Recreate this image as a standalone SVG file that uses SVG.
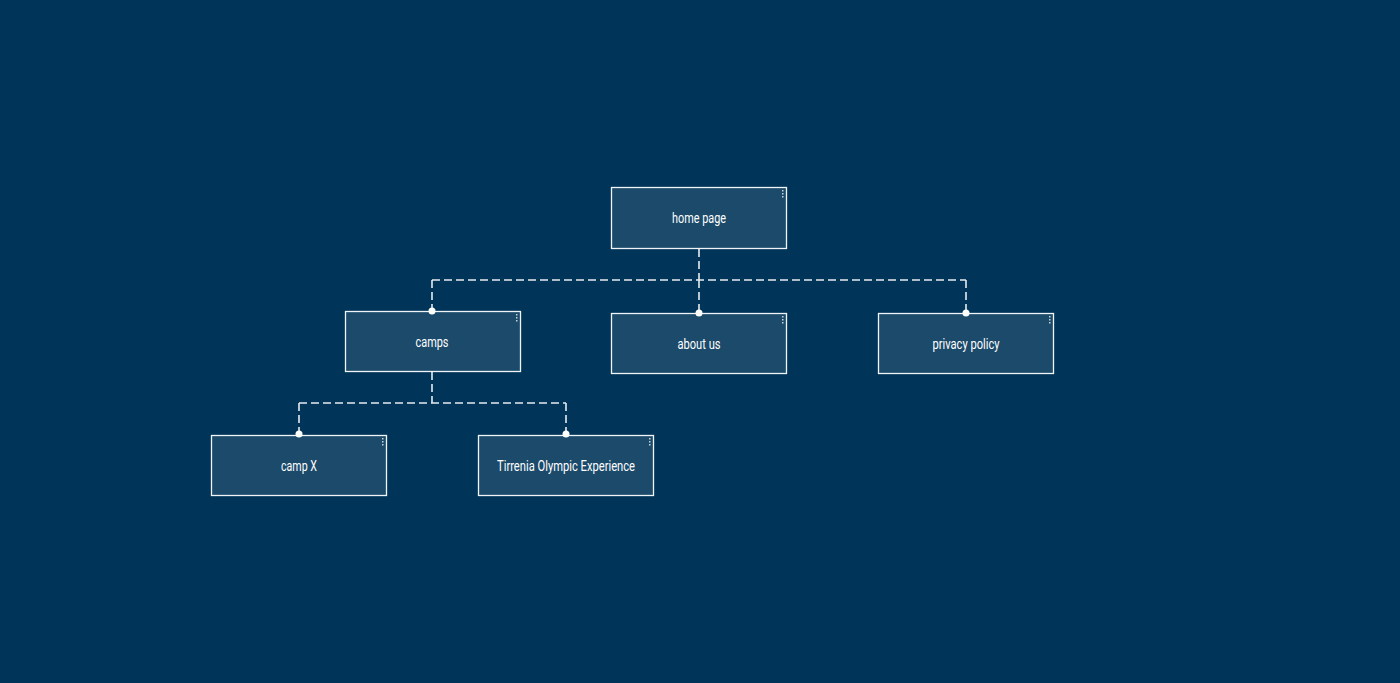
<svg xmlns="http://www.w3.org/2000/svg" width="1400" height="683" viewBox="0 0 1400 683">
<style>
.node rect.box{fill:#1b4a6b;stroke:#f0f4f7;stroke-width:1.3}
.node text{fill:#ffffff;font-family:Roboto,"DejaVu Sans",sans-serif;font-size:14px;text-anchor:middle;dominant-baseline:central}
.node .menu{fill:#c8d3dc}
.conn path{fill:none;stroke:#e6ecf0;stroke-width:1.6;stroke-dasharray:8 4}
.conn circle{fill:#ffffff}
</style>
<rect x="0" y="0" width="1400" height="683" fill="#003459"/>
<g id="node-home" class="node">
<rect class="box" x="611.5" y="187.5" width="175" height="61"/>
<text x="699" y="218" textLength="54" lengthAdjust="spacingAndGlyphs">home page</text>
<g class="menu"><rect x="782" y="190" width="1.5" height="1.5"/><rect x="782" y="193" width="1.5" height="1.5"/><rect x="782" y="196" width="1.5" height="1.5"/></g>
</g>
<g id="node-camps" class="node">
<rect class="box" x="345.5" y="311.5" width="175" height="60"/>
<text x="432" y="342" textLength="33" lengthAdjust="spacingAndGlyphs">camps</text>
<g class="menu"><rect x="516" y="314" width="1.5" height="1.5"/><rect x="516" y="317" width="1.5" height="1.5"/><rect x="516" y="320" width="1.5" height="1.5"/></g>
</g>
<g id="node-about" class="node">
<rect class="box" x="611.5" y="313.5" width="175" height="60"/>
<text x="699" y="344" textLength="43" lengthAdjust="spacingAndGlyphs">about us</text>
<g class="menu"><rect x="782" y="316" width="1.5" height="1.5"/><rect x="782" y="319" width="1.5" height="1.5"/><rect x="782" y="322" width="1.5" height="1.5"/></g>
</g>
<g id="node-privacy" class="node">
<rect class="box" x="878.5" y="313.5" width="175" height="60"/>
<text x="966" y="344" textLength="67" lengthAdjust="spacingAndGlyphs">privacy policy</text>
<g class="menu"><rect x="1049" y="316" width="1.5" height="1.5"/><rect x="1049" y="319" width="1.5" height="1.5"/><rect x="1049" y="322" width="1.5" height="1.5"/></g>
</g>
<g id="node-campx" class="node">
<rect class="box" x="211.5" y="435.5" width="175" height="60"/>
<text x="299" y="466" textLength="36" lengthAdjust="spacingAndGlyphs">camp X</text>
<g class="menu"><rect x="382" y="438" width="1.5" height="1.5"/><rect x="382" y="441" width="1.5" height="1.5"/><rect x="382" y="444" width="1.5" height="1.5"/></g>
</g>
<g id="node-tirrenia" class="node">
<rect class="box" x="478.5" y="435.5" width="175" height="60"/>
<text x="566" y="466" textLength="138" lengthAdjust="spacingAndGlyphs">Tirrenia Olympic Experience</text>
<g class="menu"><rect x="649" y="438" width="1.5" height="1.5"/><rect x="649" y="441" width="1.5" height="1.5"/><rect x="649" y="444" width="1.5" height="1.5"/></g>
</g>
<g id="connectors" class="conn">
<path d="M699 249 V280 M432 280 H966 M432 280 V311 M699 280 V313 M966 280 V313"/>
<path d="M432 372 V403 M299 403 H566 M299 403 V434 M566 403 V434"/>
<circle cx="432" cy="311" r="3.5"/>
<circle cx="699" cy="313" r="3.5"/>
<circle cx="966" cy="313" r="3.5"/>
<circle cx="299" cy="434" r="3.5"/>
<circle cx="566" cy="434" r="3.5"/>
</g>
</svg>
